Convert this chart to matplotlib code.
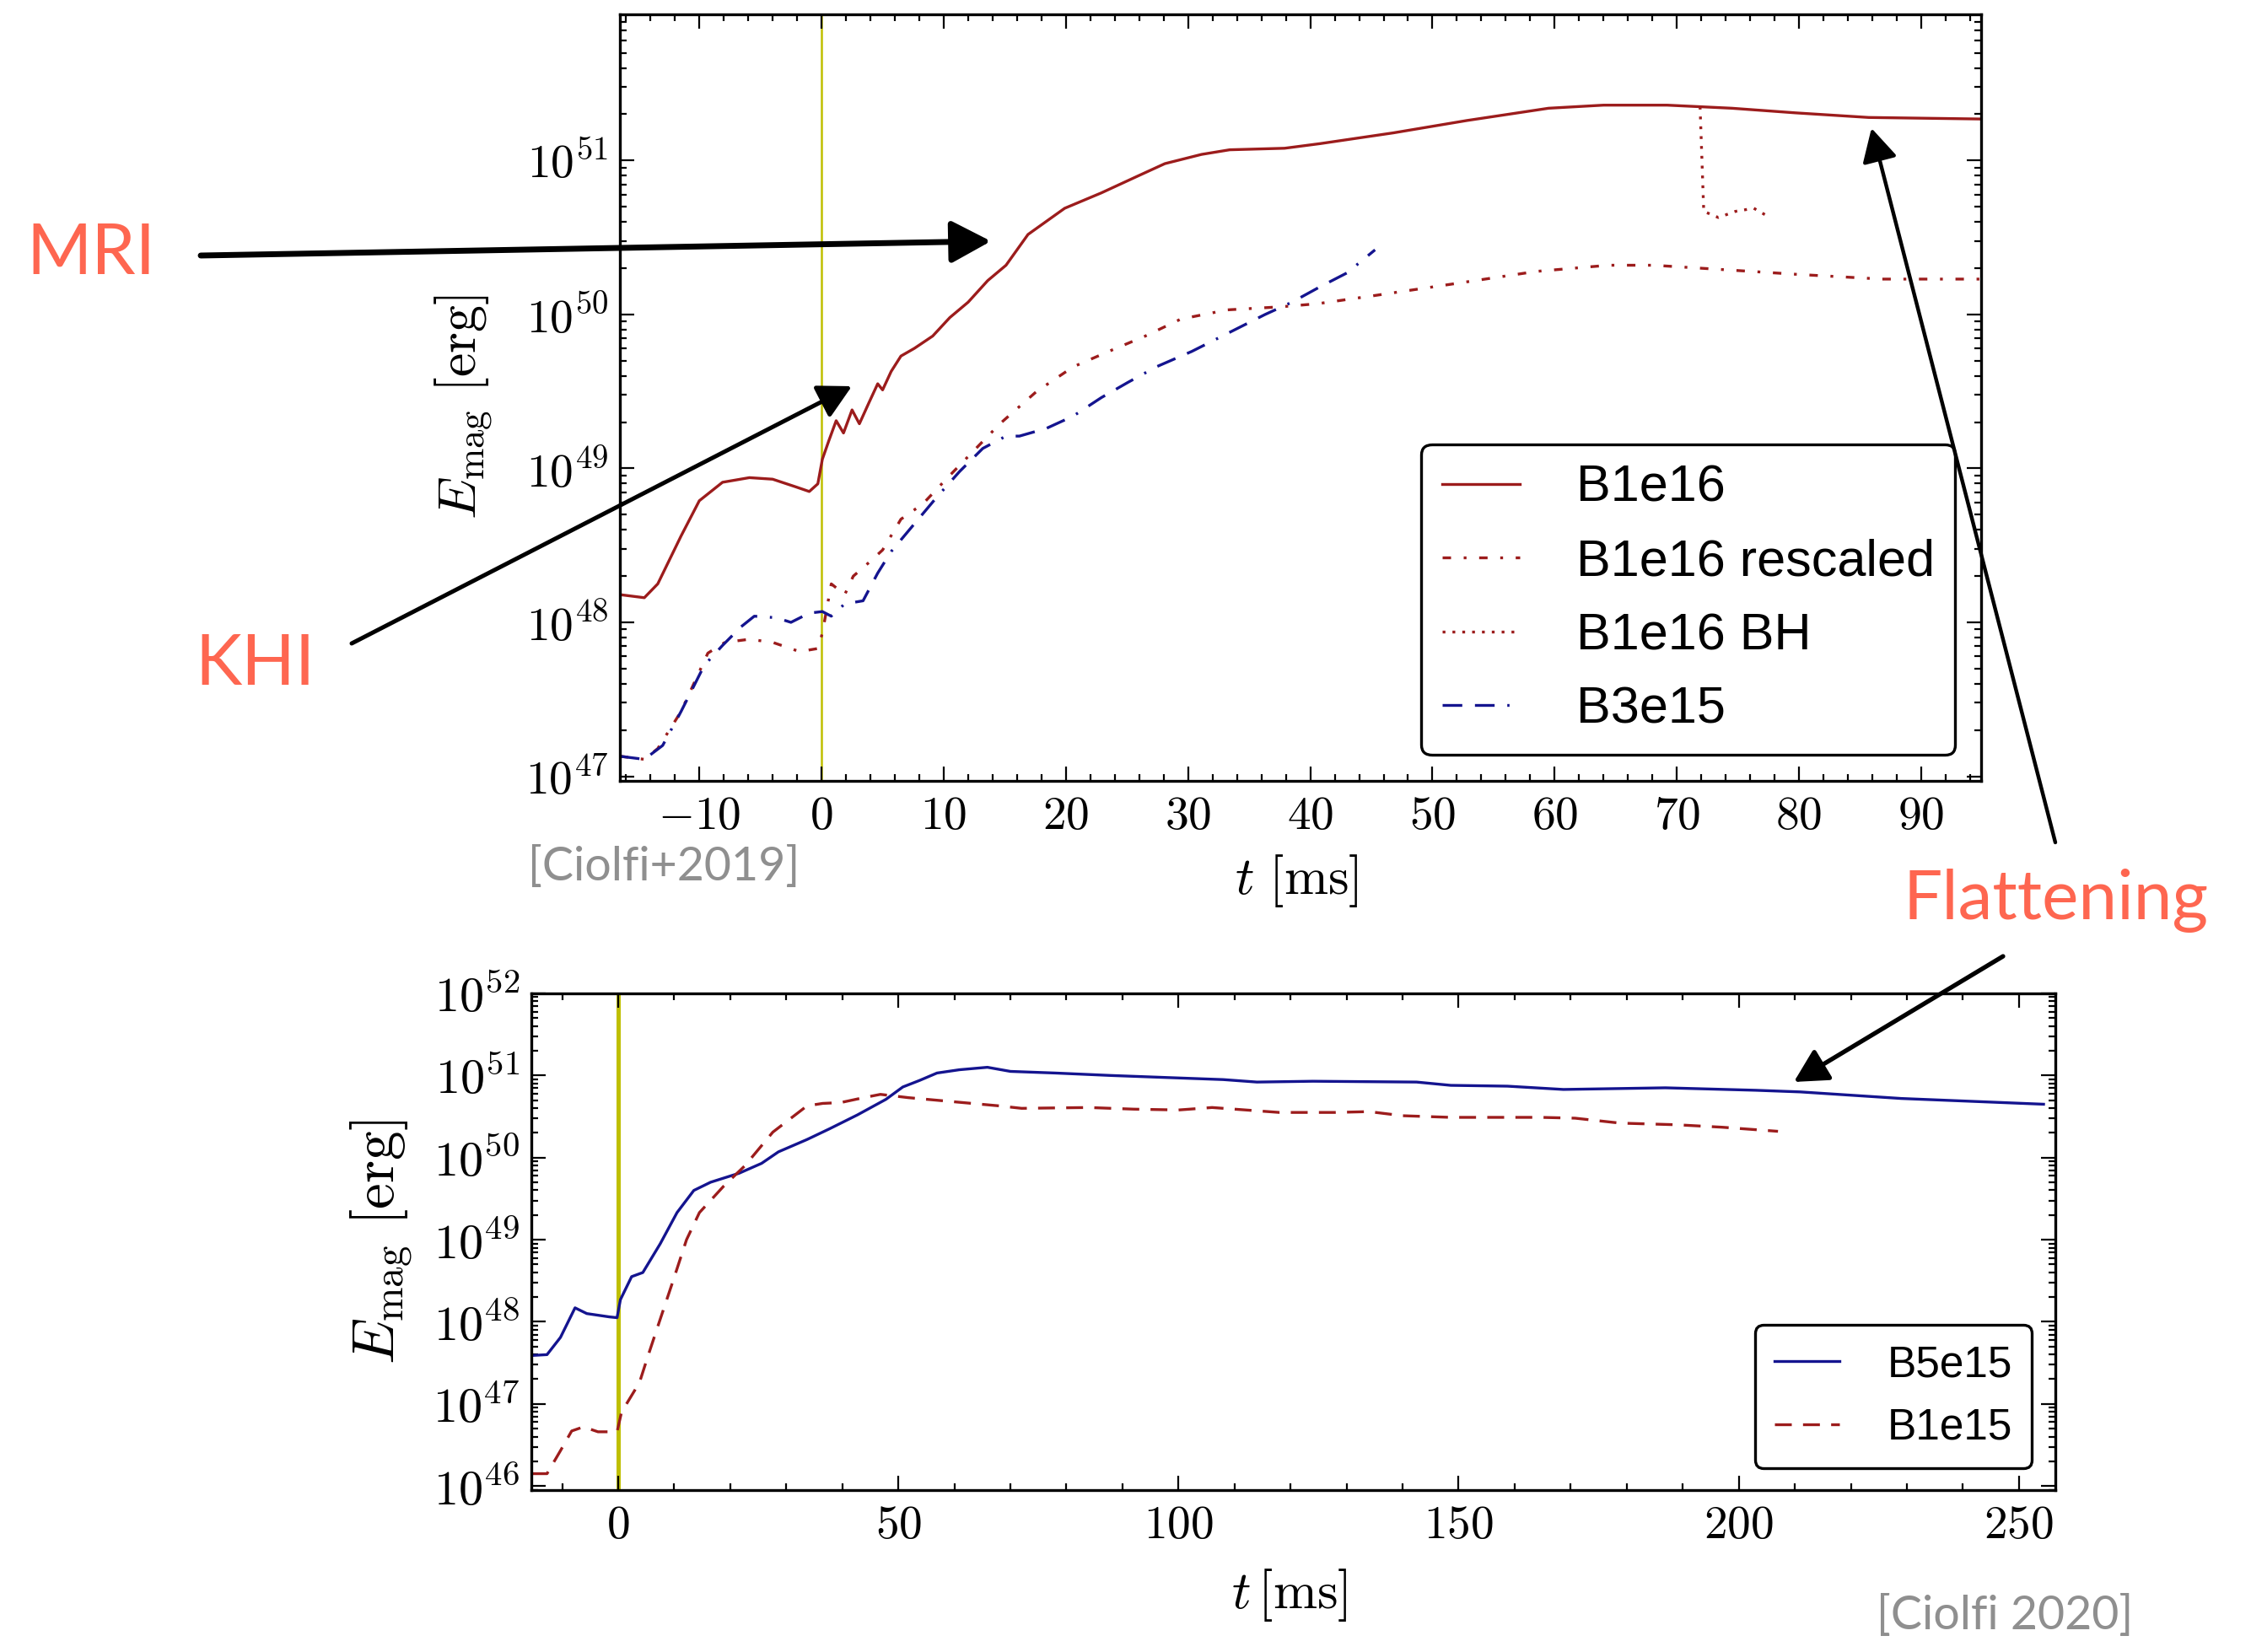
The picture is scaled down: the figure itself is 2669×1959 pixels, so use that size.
import numpy as np
import matplotlib
matplotlib.use("Agg")
import matplotlib.pyplot as plt
from matplotlib.patches import FancyArrowPatch, ArrowStyle
from matplotlib.ticker import FuncFormatter, MultipleLocator, LogLocator, NullFormatter

plt.rcParams["mathtext.fontset"] = "cm"
plt.rcParams["font.family"] = ["DejaVu Serif"]

W, H = 2669, 1959

# ---- top panel [Ciolfi+2019]: t [ms], log10(E_mag / erg)
b1e16_t = [-16.5, -14.5, -13.4, -11.5, -10.0, -8.1, -5.9, -4.0, -2.1, -1.0,
           -0.3, 0.07, 0.6, 1.2, 1.8, 2.5, 3.1, 3.9, 4.6, 5.0,
           5.7, 6.5, 7.6, 9.1, 10.5, 12.0, 13.6, 15.1, 16.9, 19.9,
           22.9, 25.9, 28.1, 31.1, 33.4, 37.9, 40.8, 46.8, 52.8, 59.5,
           64.0, 69.2, 74.5, 79.7, 85.7, 94.9]
b1e16_log = [48.18, 48.16, 48.25, 48.56, 48.79, 48.91, 48.94, 48.93, 48.88, 48.85,
             48.90, 49.06, 49.18, 49.31, 49.23, 49.38, 49.29, 49.43, 49.55, 49.51,
             49.63, 49.73, 49.78, 49.86, 49.98, 50.08, 50.22, 50.32, 50.52, 50.69,
             50.79, 50.90, 50.98, 51.04, 51.07, 51.08, 51.11, 51.18, 51.26, 51.34,
             51.36, 51.36, 51.34, 51.31, 51.28, 51.27]

resc_t = [-16.5, -14.5, -13.4, -11.5, -9.3, -7.9, -5.9, -4.0, -1.8, -0.3,
          0.07, 0.8, 1.9, 2.6, 3.9, 5.0, 6.5, 8.3, 10.2, 12.4,
          14.6, 17.6, 20.6, 23.5, 26.5, 29.4, 33.2, 37.6, 40.6, 45.0,
          51.8, 58.5, 64.4, 68.1, 74.1, 80.0, 86.8, 94.9]
resc_log = [47.13, 47.11, 47.18, 47.42, 47.80, 47.87, 47.89, 47.87, 47.81, 47.83,
            47.93, 48.25, 48.18, 48.30, 48.39, 48.47, 48.67, 48.77, 48.93, 49.11,
            49.29, 49.50, 49.66, 49.76, 49.86, 49.97, 50.03, 50.05, 50.07, 50.12,
            50.20, 50.28, 50.32, 50.32, 50.29, 50.26, 50.23, 50.23]

bh_t = [71.9, 72.2, 73.4, 74.8, 76.3, 77.4]
bh_log = [51.35, 50.67, 50.63, 50.67, 50.69, 50.64]

b3e15_t = [-16.5, -14.5, -13.0, -11.5, -9.6, -8.1, -6.6, -5.5, -3.7, -2.5,
           -1.0, 0.07, 0.8, 1.9, 3.4, 4.6, 5.7, 7.6, 9.4, 11.3,
           13.2, 15.1, 16.2, 18.4, 20.6, 22.9, 25.1, 27.4, 30.3, 33.3,
           36.3, 38.5, 40.8, 43.0, 45.3]
b3e15_log = [47.13, 47.11, 47.20, 47.42, 47.72, 47.85, 47.97, 48.04, 48.03, 48.00,
             48.06, 48.07, 48.04, 48.12, 48.14, 48.32, 48.46, 48.64, 48.81, 48.98,
             49.13, 49.21, 49.21, 49.26, 49.34, 49.46, 49.56, 49.66, 49.76, 49.88,
             50.00, 50.08, 50.18, 50.27, 50.42]

# ---- bottom panel [Ciolfi 2020]
b5e15_t = [-15.3, -12.7, -10.3, -7.7, -5.6, -3.6, -1.6, -0.2, 0.4, 2.4,
           4.4, 7.5, 10.5, 13.5, 16.5, 21.6, 25.6, 28.6, 33.7, 37.7,
           42.7, 47.8, 50.8, 53.8, 56.9, 60.9, 65.9, 70.0, 78.0, 88.0,
           100.0, 108.0, 114.0, 124.0, 142.5, 148.6, 158.7, 168.7, 186.9, 203.0,
           211.0, 229.0, 254.4]
b5e15_log = [47.59, 47.60, 47.81, 48.17, 48.10, 48.08, 48.06, 48.05, 48.27, 48.55,
             48.60, 48.95, 49.33, 49.60, 49.70, 49.81, 49.93, 50.07, 50.22, 50.35,
             50.52, 50.71, 50.86, 50.94, 51.03, 51.07, 51.10, 51.05, 51.03, 51.00,
             50.97, 50.95, 50.92, 50.93, 50.92, 50.88, 50.87, 50.83, 50.85, 50.82,
             50.80, 50.72, 50.65]

b1e15_t = [-15.3, -12.7, -10.3, -8.3, -6.2, -3.6, -0.2, 0.6, 3.8, 5.4,
           7.2, 9.8, 12.2, 14.5, 18.8, 22.6, 27.6, 33.7, 36.5, 39.7,
           43.8, 46.8, 51.8, 59.9, 68.0, 72.0, 84.0, 92.0, 100.0, 106.0,
           112.0, 118.0, 128.0, 134.0, 140.0, 148.6, 164.7, 170.8, 178.8, 188.9,
           197.0, 207.0]
b1e15_log = [46.15, 46.15, 46.43, 46.67, 46.72, 46.66, 46.66, 46.90, 47.26, 47.60,
             47.97, 48.50, 49.00, 49.33, 49.65, 49.90, 50.31, 50.63, 50.66, 50.67,
             50.73, 50.77, 50.73, 50.68, 50.63, 50.60, 50.61, 50.59, 50.58, 50.61,
             50.58, 50.55, 50.55, 50.56, 50.51, 50.49, 50.49, 50.48, 50.42, 50.40,
             50.37, 50.32]

RED = "#9c1c1c"
BLUE = "#14148f"
YEL = "#bfbf00"
CORAL = "#fe6650"
GREY = "#8f8f8f"


def E(v):
    return np.power(10.0, np.array(v))


def px(x, y):
    # pixel position (from top-left) -> figure fraction
    return (x / W, 1 - y / H)


def style_axes(ax, xminor, fs_x, fs_y):
    ax.set_yscale("log")
    ax.xaxis.set_minor_locator(MultipleLocator(xminor))
    ax.xaxis.set_major_formatter(FuncFormatter(lambda v, p: r"$%d$" % round(v)))
    ax.yaxis.set_major_locator(LogLocator(base=10, numticks=20))
    ax.yaxis.set_minor_locator(LogLocator(base=10, subs=np.arange(2, 10), numticks=20))
    ax.yaxis.set_minor_formatter(NullFormatter())
    ax.yaxis.set_major_formatter(FuncFormatter(lambda v, p: r"$10^{%d}$" % round(np.log10(v))))
    ax.tick_params(which="both", direction="in", top=True, right=True, width=1.6)
    ax.tick_params(which="major", length=12, pad=10)
    ax.tick_params(which="minor", length=6)
    ax.tick_params(axis="x", labelsize=fs_x)
    ax.tick_params(axis="y", labelsize=fs_y)
    for s in ax.spines.values():
        s.set_linewidth(2.4)


fig = plt.figure(figsize=(W / 100, H / 100), dpi=100)

# ---------------- top panel
ax1 = fig.add_axes([735 / W, 1 - 926 / H, 1614 / W, 909 / H])
ax1.axvline(0, color=YEL, lw=1.8, zorder=1)
ax1.plot(b1e16_t, E(b1e16_log), color=RED, lw=2.4, label="B1e16")
ax1.plot(resc_t, E(resc_log), color=RED, lw=2.4, ls=(0, (3, 4.5, 1, 4.5)),
         label="B1e16 rescaled")
ax1.plot(bh_t, E(bh_log), color=RED, lw=2.4, ls=(0, (1, 2.5)), label="B1e16 BH")
ax1.plot(b3e15_t, E(b3e15_log), color=BLUE, lw=2.4, ls=(0, (7, 4.5, 7, 4.5, 0.8, 4.5)),
         label="B3e15")
ax1.set_xlim(-16.5, 94.9)
ax1.set_ylim(10 ** 46.97, 10 ** 51.95)
style_axes(ax1, 2, 40, 40)
ax1.set_xticks(np.arange(-10, 91, 10))
ax1.set_xlabel(r"$t\ [\mathrm{ms}]$", fontsize=45)
ax1.xaxis.set_label_coords(0.497, -0.094)
ax1.set_ylabel(r"$E_{\rm mag}\ [\mathrm{erg}]$", fontsize=46)
ax1.yaxis.set_label_coords(-0.092, 0.488)
leg1 = ax1.legend(loc="lower right", bbox_to_anchor=(0.981, 0.034), borderaxespad=0,
                  prop={"family": ["Liberation Sans", "DejaVu Sans"], "size": 44},
                  handlelength=1.5, handletextpad=1.1, labelspacing=0.5,
                  borderpad=0.4, fancybox=True, framealpha=1, edgecolor="black")
leg1.get_frame().set_linewidth(2.4)

# ---------------- bottom panel
ax2 = fig.add_axes([630 / W, 1 - 1767 / H, 1807 / W, 589 / H])
ax2.axvline(0, color=YEL, lw=3.6, zorder=1)
ax2.plot(b5e15_t, E(b5e15_log), color=BLUE, lw=2.4, label="B5e15")
ax2.plot(b1e15_t, E(b1e15_log), color=RED, lw=2.4, ls=(0, (6, 4)), label="B1e15")
ax2.set_xlim(-15.5, 256.5)
ax2.set_ylim(10 ** 45.95, 1e52)
style_axes(ax2, 10, 40, 42)
ax2.set_xticks(np.arange(0, 251, 50))
ax2.set_xlabel(r"$t\,[\mathrm{ms}]$", fontsize=45)
ax2.xaxis.set_label_coords(0.4975, -0.155)
ax2.set_ylabel(r"$E_{\rm mag}\ [\mathrm{erg}]$", fontsize=50)
ax2.yaxis.set_label_coords(-0.076, 0.50)
leg2 = ax2.legend(loc="lower right", bbox_to_anchor=(0.9845, 0.044), borderaxespad=0,
                  prop={"family": ["Liberation Sans", "DejaVu Sans"], "size": 37},
                  handlelength=1.5, handletextpad=1.1, labelspacing=0.5,
                  borderpad=0.45, fancybox=True, framealpha=1, edgecolor="black")
leg2.get_frame().set_linewidth(2.4)

# ---------------- annotations
sans = ["Lato", "DejaVu Sans"]
fig.text(*px(31, 325), "MRI", color=CORAL, fontsize=60, family=sans, ha="left", va="baseline")
fig.text(*px(231, 812), "KHI", color=CORAL, fontsize=60, family=sans, ha="left", va="baseline")
fig.text(*px(2256, 1090), "Flattening", color=CORAL, fontsize=59, family=sans,
         ha="left", va="baseline")
fig.text(*px(626, 1044), "[Ciolfi+2019]", color=GREY, fontsize=40, family=sans,
         ha="left", va="baseline")
fig.text(*px(2225, 1932), "[Ciolfi 2020]", color=GREY, fontsize=40, family=sans,
         ha="left", va="baseline")

arrows = [((238, 303), (1175, 286), 5.0, 48),
          ((417, 763), (1010, 458), 3.6, 40),
          ((2437, 999), (2219, 152), 3.2, 40),
          ((2375, 1134), (2127, 1283), 3.8, 40)]
for start, end, lw, ms in arrows:
    fig.add_artist(FancyArrowPatch(px(*start), px(*end), transform=fig.transFigure,
                                   arrowstyle=ArrowStyle("-|>", head_length=0.6, head_width=0.32),
                                   mutation_scale=ms, lw=lw, color="black",
                                   shrinkA=0, shrinkB=0))

fig.savefig("out.png", dpi=100)
